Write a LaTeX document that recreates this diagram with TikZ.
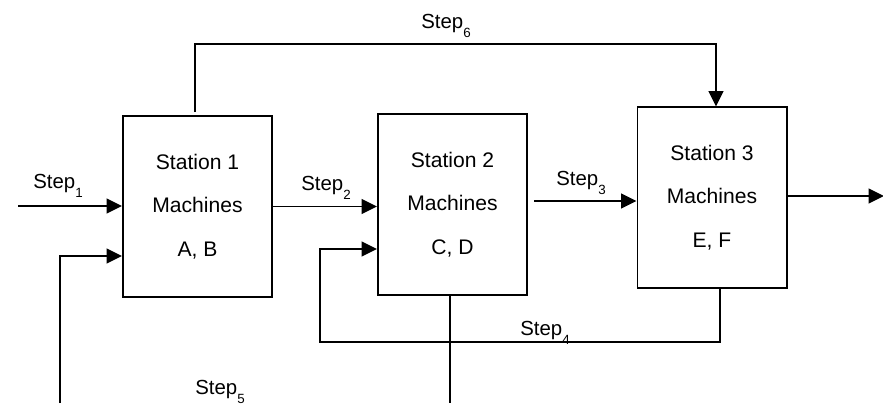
\documentclass[tikz,border=0pt]{standalone}
\usepackage{fontspec}
\setmainfont{Liberation Sans}
\usepackage{tikz}
\usetikzlibrary{arrows.meta}

\newcommand{\stepsub}[1]{Step\raisebox{-0.45em}{\fontsize{9.5}{9.5}\selectfont #1}}

\begin{document}
\begin{tikzpicture}[x=0.025cm, y=-0.025cm, line width=1.4pt,
        station/.style={draw, minimum width=3.725cm, minimum height=4.5cm, align=center,
            font=\fontsize{15}{31}\selectfont},
        flow/.style={-{Triangle[length=11pt, width=10.5pt]}},
        lbl/.style={font=\fontsize{14.5}{15}\selectfont, inner sep=0pt}]
            \useasboundingbox (0,0) rectangle (883,403);

            % Stations
            \node[station] (b1) at (197.5,206.5) {Station 1\\Machines\\A, B};
            \node[station] (b2) at (452.5,204.5) {Station 2\\Machines\\C, D};
            \node[station] (b3) at (712,197.5) {Station 3\\Machines\\E, F};

            % Free ends
            \coordinate (in1) at (18,206);
            \coordinate (in5) at (60,403);
            \coordinate (s6) at (195,112);
            \coordinate (top) at (195,44);
            \coordinate (s3) at (534,201);
            \coordinate (low) at (320,342);
            \coordinate (out) at (884,196);
            \coordinate (bot) at (450,403);

            % Step 1 and step 5 into station 1
            \draw[flow] (in1) -- (in1 -| b1.west);
            \draw[flow] (in5) |- ([yshift=-49.5*0.025cm]b1.west);

            % Step 2
            \draw[flow] (b1.east) -- (b1.east -| b2.west);

            % Step 3
            \draw[flow] (s3) -- (s3 -| b3.west);

            % Step 6 over the top
            \draw[flow] (s6) -- (top) -| ([xshift=4*0.025cm]b3.north);

            % Step 4 back to station 2
            \draw[flow] ([xshift=8*0.025cm]b3.south) |- (low) |- ([yshift=-44.5*0.025cm]b2.west);

            % Down from station 2
            \draw ([xshift=-2.5*0.025cm]b2.south) -- (bot);

            % Out of station 3
            \draw[flow] (b3.east |- out) -- (out);

            % Labels
            \node[lbl] (l1) at (58,186) {\stepsub{1}};
            \node[lbl] (l2) at (326,188) {\stepsub{2}};
            \node[lbl] (l3) at (581,183) {\stepsub{3}};
            \node[lbl] (l4) at (545,333) {\stepsub{4}};
            \node[lbl] (l5) at (220,392) {\stepsub{5}};
            \node[lbl] (l6) at (446,26) {\stepsub{6}};
        \end{tikzpicture}
\end{document}
